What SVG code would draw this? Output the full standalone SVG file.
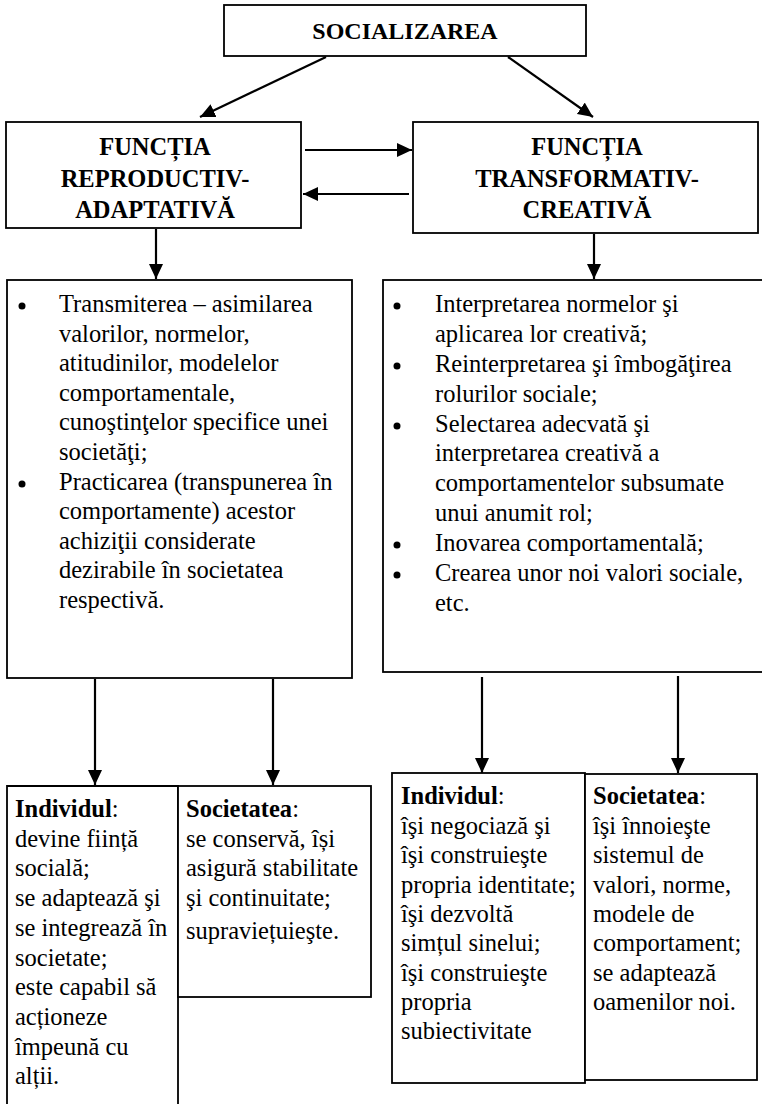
<svg xmlns="http://www.w3.org/2000/svg" width="762" height="1104" viewBox="0 0 762 1104">
<defs>
<marker id="ah" markerWidth="15" markerHeight="14" refX="15" refY="7" orient="auto" markerUnits="userSpaceOnUse" viewBox="0 0 15 14">
<path d="M0,0 L15,7 L0,14 z" fill="#000"/>
</marker>
<style>
.box{fill:#fff;stroke:#000;stroke-width:1.8}
.t{font-family:"Liberation Serif","Tinos","Times New Roman","DejaVu Serif",serif;font-size:24.5px;fill:#000}
.h{font-family:"Liberation Serif","Tinos","Times New Roman","DejaVu Serif",serif;font-size:24.5px;font-weight:bold;fill:#000;text-anchor:middle}
.b{font-weight:bold}
.c{fill:none;stroke:#000;stroke-width:2.2;marker-end:url(#ah)}
</style>
</defs>
<rect width="762" height="1104" fill="#fff"/>
<g id="connectors">
<line class="c" x1="326" y1="57" x2="200" y2="117"/>
<line class="c" x1="508" y1="57" x2="593" y2="117"/>
<line class="c" x1="305" y1="150" x2="412" y2="150"/>
<line class="c" x1="409" y1="194" x2="303" y2="194"/>
<line class="c" x1="156" y1="229" x2="156" y2="279"/>
<line class="c" x1="594" y1="234" x2="594" y2="279"/>
<line class="c" x1="95" y1="679" x2="95" y2="785"/>
<line class="c" x1="273" y1="679" x2="273" y2="785"/>
<line class="c" x1="482" y1="677" x2="482" y2="773"/>
<line class="c" x1="678" y1="676" x2="678" y2="773"/>
</g>
<g id="socializarea">
<rect class="box" x="224" y="5" width="362" height="51"/>
<text class="h" x="405" y="39" style="font-size:24px">SOCIALIZAREA</text>
</g>
<g id="functia-reproductiv">
<rect class="box" x="6" y="122" width="295" height="106"/>
<text class="h" x="155" y="155">FUNCȚIA</text>
<text class="h" x="155" y="187">REPRODUCTIV-</text>
<text class="h" x="155" y="218">ADAPTATIVĂ</text>
</g>
<g id="functia-transformativ">
<rect class="box" x="413" y="122" width="345" height="111"/>
<text class="h" x="587" y="155">FUNCȚIA</text>
<text class="h" x="587" y="187">TRANSFORMATIV-</text>
<text class="h" x="587" y="218">CREATIVĂ</text>
</g>
<g id="reproductiv-list">
<rect class="box" x="7" y="280" width="345" height="398"/>
<circle cx="22" cy="306" r="3.5"/>
<circle cx="22" cy="484" r="3.5"/>
<text class="t" x="59" y="312">Transmiterea – asimilarea</text>
<text class="t" x="59" y="341.6">valorilor, normelor,</text>
<text class="t" x="59" y="371.2">atitudinilor, modelelor</text>
<text class="t" x="59" y="400.8">comportamentale,</text>
<text class="t" x="59" y="430.4">cunoştinţelor specifice unei</text>
<text class="t" x="59" y="460">societăţi;</text>
<text class="t" x="59" y="489.6">Practicarea (transpunerea în</text>
<text class="t" x="59" y="519.2">comportamente) acestor</text>
<text class="t" x="59" y="548.8">achiziţii considerate</text>
<text class="t" x="59" y="578.4">dezirabile în societatea</text>
<text class="t" x="59" y="608">respectivă.</text>
</g>
<g id="transformativ-list">
<rect class="box" x="383" y="280" width="381" height="392"/>
<circle cx="397" cy="306" r="3.5"/>
<circle cx="397" cy="366" r="3.5"/>
<circle cx="397" cy="426" r="3.5"/>
<circle cx="397" cy="545" r="3.5"/>
<circle cx="397" cy="575" r="3.5"/>
<text class="t" x="435" y="312">Interpretarea normelor şi</text>
<text class="t" x="435" y="342">aplicarea lor creativă;</text>
<text class="t" x="435" y="372">Reinterpretarea şi îmbogăţirea</text>
<text class="t" x="435" y="402">rolurilor sociale;</text>
<text class="t" x="435" y="432">Selectarea adecvată şi</text>
<text class="t" x="435" y="461">interpretarea creativă a</text>
<text class="t" x="435" y="491">comportamentelor subsumate</text>
<text class="t" x="435" y="521">unui anumit rol;</text>
<text class="t" x="435" y="551">Inovarea comportamentală;</text>
<text class="t" x="435" y="581">Crearea unor noi valori sociale,</text>
<text class="t" x="435" y="611">etc.</text>
</g>
<g id="individul-reproductiv">
<path class="box" d="M7,1106 L7,786 L178,786 L178,1106"/>
<text class="t" x="15" y="817"><tspan class="b">Individul</tspan>:</text>
<text class="t" x="15" y="847">devine ființă</text>
<text class="t" x="15" y="876">socială;</text>
<text class="t" x="15" y="906">se adaptează şi</text>
<text class="t" x="15" y="936">se integrează în</text>
<text class="t" x="15" y="966">societate;</text>
<text class="t" x="15" y="995">este capabil să</text>
<text class="t" x="15" y="1025">acționeze</text>
<text class="t" x="15" y="1055">împeună cu</text>
<text class="t" x="15" y="1084">alții.</text>
</g>
<g id="societatea-reproductiv">
<rect class="box" x="178" y="786" width="193" height="211"/>
<text class="t" x="186" y="817"><tspan class="b">Societatea</tspan>:</text>
<text class="t" x="186" y="847">se conservă, își</text>
<text class="t" x="186" y="876">asigură stabilitate</text>
<text class="t" x="186" y="906">şi continuitate;</text>
<text class="t" x="186" y="939">supraviețuieşte.</text>
</g>
<g id="individul-transformativ">
<rect class="box" x="392" y="773" width="193" height="310"/>
<text class="t" x="401" y="804"><tspan class="b">Individul</tspan>:</text>
<text class="t" x="401" y="834">îşi negociază şi</text>
<text class="t" x="401" y="863">îşi construieşte</text>
<text class="t" x="401" y="893">propria identitate;</text>
<text class="t" x="401" y="922">îşi dezvoltă</text>
<text class="t" x="401" y="951">simțul sinelui;</text>
<text class="t" x="401" y="981">îşi construieşte</text>
<text class="t" x="401" y="1010">propria</text>
<text class="t" x="401" y="1039">subiectivitate</text>
</g>
<g id="societatea-transformativ">
<rect class="box" x="585" y="774" width="172" height="306"/>
<text class="t" x="593" y="804"><tspan class="b">Societatea</tspan>:</text>
<text class="t" x="593" y="834">îşi înnoieşte</text>
<text class="t" x="593" y="863">sistemul de</text>
<text class="t" x="593" y="893">valori, norme,</text>
<text class="t" x="593" y="922">modele de</text>
<text class="t" x="593" y="951">comportament;</text>
<text class="t" x="593" y="981">se adaptează</text>
<text class="t" x="593" y="1010">oamenilor noi.</text>
</g>
</svg>
